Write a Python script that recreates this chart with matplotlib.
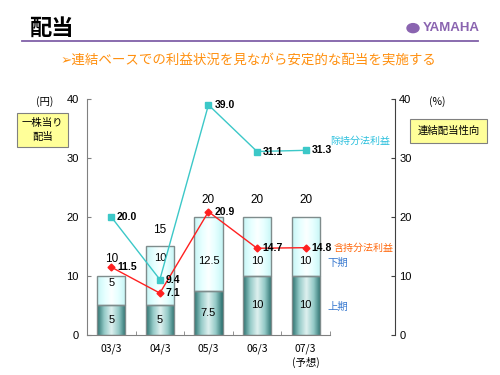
import numpy as np
import matplotlib.pyplot as plt
from matplotlib.colors import LinearSegmentedColormap
from matplotlib.patches import Rectangle, Circle

plt.rcParams['font.family'] = ['Noto Sans CJK JP', 'DejaVu Sans']

categories = ['03/3', '04/3', '05/3', '06/3', '07/3\n(予想)']
first_half = [5, 5, 7.5, 10, 10]
second_half = [5, 10, 12.5, 10, 10]
totals = [10, 15, 20, 20, 20]
payout_excl = [20.0, 9.4, 39.0, 31.1, 31.3]
payout_incl = [11.5, 7.1, 20.9, 14.7, 14.8]

# where the 下期 numbers sit inside the upper segment (as in the original slide)
upper_label_y = [8.8, 13.0, 12.5, 12.5, 12.5]

fig = plt.figure(figsize=(5, 3.75), dpi=100)
ax = fig.add_axes([0.174, 0.1067, 0.616, 0.6293])
ax2 = ax.twinx()

dark_cmap = LinearSegmentedColormap.from_list('dk', ['#dcefee', '#94cac7', '#2a706e'])
light_cmap = LinearSegmentedColormap.from_list('lt', ['#fbffff', '#e4ffff', '#c6f5f5'])
grad = np.abs(np.linspace(-1, 1, 64))[None, :]

x = np.arange(len(categories))
w = 0.58

def grad_bar(xc, y0, h, cmap):
    rect = Rectangle((xc - w / 2, y0), w, h, facecolor='none', edgecolor='#7f8c8c',
                     linewidth=1.0, zorder=3)
    ax.add_patch(rect)
    im = ax.imshow(grad, cmap=cmap, aspect='auto', extent=(xc - w / 2, xc + w / 2, y0, y0 + h),
                   zorder=2, interpolation='bilinear')
    im.set_clip_path(rect)

for i in range(len(x)):
    grad_bar(x[i], 0, first_half[i], dark_cmap)
    grad_bar(x[i], first_half[i], second_half[i], light_cmap)
    ax.text(x[i], first_half[i] / 2, f'{first_half[i]:g}', ha='center', va='center',
            fontsize=8, family='Liberation Sans', zorder=5)
    ax.text(x[i], upper_label_y[i], f'{second_half[i]:g}', ha='center',
            va='center', fontsize=8, family='Liberation Sans', zorder=5)
    ax.text(x[i], totals[i] + 2.8, f'{totals[i]}', ha='center', va='center',
            fontsize=8.5, family='Liberation Sans', zorder=5)

ax.set_xlim(-0.5, 5.84)
ax.set_ylim(0, 40)
ax2.set_ylim(0, 40)

ax2.plot(x, payout_excl, color='#3cc8c8', lw=1.0, marker='s', ms=4.5, zorder=6)
ax2.plot(x, payout_incl, color='#ff2020', lw=1.0, marker='D', ms=3.5, zorder=6)
for i in range(len(x)):
    ax2.text(x[i] + 0.12, payout_excl[i], f'{payout_excl[i]:.1f}', ha='left', va='center',
             fontsize=7.5, fontweight='bold', family='Liberation Sans', zorder=7)
    ax2.text(x[i] + 0.12, payout_incl[i], f'{payout_incl[i]:.1f}', ha='left', va='center',
             fontsize=7.5, fontweight='bold', family='Liberation Sans', zorder=7)

ax2.text(4.5, 32.9, '除持分法利益', color='#2cc0dd', fontsize=7.2, ha='left', va='center')
ax2.text(4.58, 14.8, '含持分法利益', color='#ff6a10', fontsize=7.2, ha='left', va='center')
ax.text(4.44, 12.2, '下期', color='#3a7ad0', fontsize=7.5, ha='left', va='center')
ax.text(4.44, 4.7, '上期', color='#3a7ad0', fontsize=7.5, ha='left', va='center')

for a in (ax, ax2):
    for s in a.spines.values():
        s.set_visible(False)
ax.spines['left'].set_visible(True)
ax.spines['left'].set_color('#808080')
ax.spines['bottom'].set_visible(True)
ax.spines['bottom'].set_color('#808080')
ax.spines['bottom'].set_bounds(-0.5, 4.5)
ax2.spines['right'].set_visible(True)
ax2.spines['right'].set_color('#404040')

ax.set_yticks(np.arange(0, 41, 10))
ax2.set_yticks(np.arange(0, 41, 10))
ax.tick_params(axis='y', direction='in', length=3, labelsize=8, colors='#808080',
               labelcolor='black', pad=6)
ax2.tick_params(axis='y', direction='in', length=3, labelsize=8, colors='#404040',
                labelcolor='black', pad=3)
for lab in ax.get_yticklabels() + ax2.get_yticklabels():
    lab.set_family('Liberation Sans')
ax.set_xticks(x)
ax.set_xticklabels(categories, fontsize=7.5, linespacing=1.3)
ax.set_xticks(np.arange(-0.5, 5, 1), minor=True)
ax.tick_params(axis='x', which='major', length=0, pad=6)
ax.tick_params(axis='x', which='minor', direction='in', length=3, colors='#808080')

# header
fig.text(0.058, 0.925, '配当', fontsize=16, fontweight='bold', ha='left', va='center')
fig.add_artist(plt.Line2D([0.044, 0.956], [0.89, 0.89], color='#8060a8', lw=1.3))
fig.add_artist(Circle((0.826, 0.925), 0.012, transform=fig.transFigure, color='#8a64b0'))
fig.text(0.845, 0.925, 'YAMAHA', fontsize=9.5, fontweight='bold', color='#8a64b0',
         family='Liberation Sans', ha='left', va='center')
fig.text(0.496, 0.838, '➢連結ベースでの利益状況を見ながら安定的な配当を実施する',
         fontsize=9.7, color='#ff9010', ha='center', va='center',
         family=['DejaVu Sans', 'Noto Sans CJK JP'])

# axis caption boxes
fig.text(0.09, 0.728, '(円)', fontsize=7.5, ha='center', va='center')
fig.text(0.085, 0.653, '一株当り\n配当', fontsize=7.5, ha='center', va='center', linespacing=1.4,
         bbox=dict(boxstyle='square,pad=0.5', fc='#ffff99', ec='#808080', lw=0.8))
fig.text(0.874, 0.728, '(%)', fontsize=7.5, ha='center', va='center')
fig.text(0.897, 0.651, '連結配当性向', fontsize=7.5, ha='center', va='center',
         bbox=dict(boxstyle='square,pad=0.7', fc='#ffff99', ec='#808080', lw=0.8))

fig.savefig('out.png', dpi=100)
